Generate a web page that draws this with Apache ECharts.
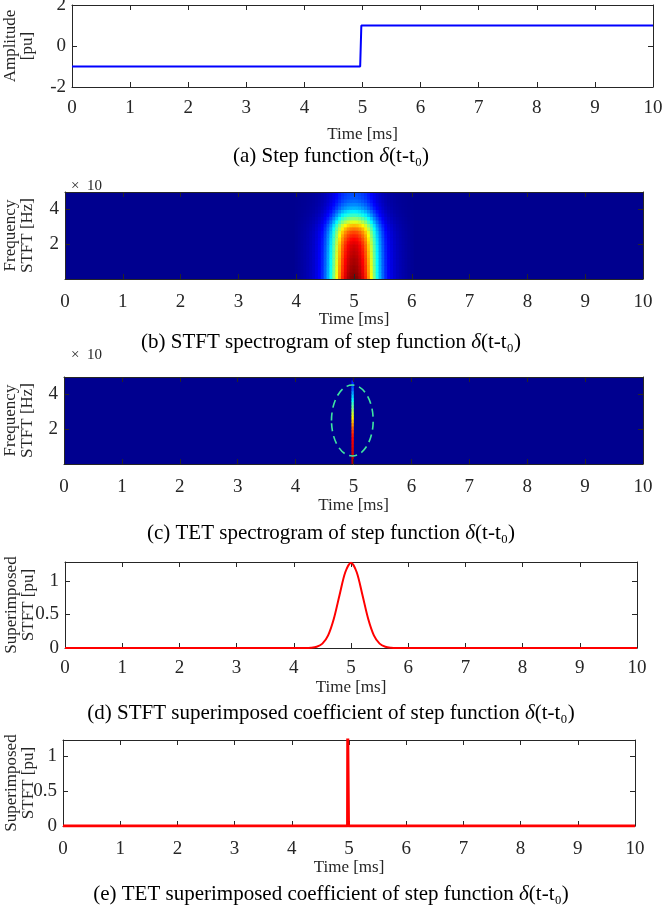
<!DOCTYPE html>
<html>
<head>
<meta charset="utf-8">
<script src="https://cdn.jsdelivr.net/npm/echarts@6/dist/echarts.min.js"></script>
<style>
  html, body { margin: 0; padding: 0; background: #fff; }
  #chart { width: 667px; height: 906px; }
</style>
</head>
<body>
<div id="chart"></div>
<script>
// ---------- data ----------
// (a) step function
const stepTime = [0, 4.96, 4.98, 10]
const stepAmp = [-1, -1, 1, 1]

// (b) STFT spectrogram: time profile (4.0 .. 6.0 ms, 0.05 step) and frequency profile (x10^4 Hz)
const stftTimes = [4.0, 4.05, 4.1, 4.15, 4.2, 4.25, 4.3, 4.35, 4.4, 4.45, 4.5, 4.55, 4.6, 4.65, 4.7, 4.75, 4.8, 4.85, 4.9, 4.95,
  5.0, 5.05, 5.1, 5.15, 5.2, 5.25, 5.3, 5.35, 5.4, 5.45, 5.5, 5.55, 5.6, 5.65, 5.7, 5.75, 5.8, 5.85, 5.9, 5.95, 6.0]
const stftTimeLevel = [0.007, 0.014, 0.022, 0.031, 0.042, 0.055, 0.072, 0.095, 0.125, 0.165, 0.225, 0.3, 0.39, 0.5, 0.62, 0.74, 0.84, 0.91, 0.96, 0.99,
  1.0, 0.99, 0.96, 0.91, 0.84, 0.74, 0.62, 0.5, 0.39, 0.3, 0.225, 0.165, 0.125, 0.095, 0.072, 0.055, 0.042, 0.031, 0.022, 0.014, 0.007]
const freqBins = [0.1, 0.3, 0.5, 0.7, 0.9, 1.1, 1.3, 1.5, 1.7, 1.9, 2.1, 2.3, 2.5, 2.7, 2.9, 3.1, 3.3, 3.5, 3.7, 3.9, 4.1, 4.3, 4.5, 4.7, 4.9]
const stftFreqLevel = [1.0, 0.99, 0.98, 0.975, 0.965, 0.96, 0.95, 0.94, 0.93, 0.92, 0.9, 0.875, 0.845, 0.81, 0.76, 0.69, 0.6, 0.51, 0.43, 0.36, 0.3, 0.26, 0.23, 0.21, 0.2]

// (c) TET spectrogram: one ridge at t0
const tetTime = 4.98
const tetLevel = [0.95, 0.94, 0.93, 0.92, 0.91, 0.9, 0.89, 0.87, 0.85, 0.82, 0.78, 0.73, 0.68, 0.63, 0.58, 0.53, 0.48, 0.43, 0.38, 0.33, 0.28, 0.23, 0.19, 0.15, 0]
// dashed ellipse: [centre t, centre f, radius t, radius f]
const ellipseMark = [4.98, 2.5, 0.36, 2.04]

// (d) STFT superimposed coefficient
const stftSumTime = [0, 4.2, 4.3, 4.4, 4.5, 4.6, 4.7, 4.8, 4.9, 5.0, 5.1, 5.2, 5.3, 5.4, 5.5, 5.6, 5.7, 5.8, 10]
const stftSumVal = [0, 0.001, 0.004, 0.018, 0.065, 0.189, 0.436, 0.789, 1.128, 1.27, 1.128, 0.789, 0.436, 0.189, 0.065, 0.018, 0.004, 0.001, 0]

// (e) TET superimposed coefficient
const tetSumTime = [0, 4.975, 4.978, 4.988, 4.991, 10]
const tetSumVal = [0, 0, 1.3, 1.3, 0, 0]

// jet colormap
const jetColors = ['#00008F', '#0000FF', '#0080FF', '#00FFFF', '#80FF80', '#FFFF00', '#FF8000', '#FF0000', '#800000']

/* ---------------- build ---------------- */
const FONT = 'Liberation Serif'
const INK = '#262626'

const pairs = (xs, ys) => xs.map((x, i) => [x, ys[i]])

// spectrogram cells
const stftCells = []
stftTimes.forEach((t, i) => {
  freqBins.forEach((f, j) => {
    stftCells.push([t, f, stftTimeLevel[i] * stftFreqLevel[j]])
  })
})
const tetCells = freqBins.map((f, j) => [tetTime, f, tetLevel[j]]).filter(d => d[2] > 0)

const cellRenderer = (dt, df) => (params, api) => {
  const p = api.coord([api.value(0) - dt / 2, api.value(1) + df / 2])
  const s = api.size([dt, df])
  return {
    type: 'rect',
    shape: { x: p[0], y: p[1], width: s[0] + 0.6, height: s[1] + 0.6 },
    style: { fill: api.visual('color') }
  }
}

// grid layouts
const grids = [
  { left: 72, right: 14, top: 5, height: 82 },
  { left: 65, right: 24, top: 192, height: 87 },
  { left: 64, right: 24, top: 377, height: 87 },
  { left: 65, right: 30, top: 562, height: 86 },
  { left: 63, right: 32, top: 740, height: 86 }
]
grids.forEach(g => { g.containLabel = false; g.outerBoundsMode = 'none' })
const labelMargins = [12, 14, 14, 11, 14]
const nameGaps = [39, 32, 33, 31, 33]
const yConf = [
  { min: -2, max: 2, interval: 2, name: 'Amplitude\n[pu]', gap: 36 },
  { min: 0, max: 5, interval: 2, name: 'Frequency\nSTFT [Hz]', gap: 29 },
  { min: 0, max: 5, interval: 2, name: 'Frequency\nSTFT [Hz]', gap: 28 },
  { min: 0, max: 1.28, interval: 0.5, name: 'Superimposed\nSTFT [pu]', gap: 28 },
  { min: 0, max: 1.23, interval: 0.5, name: 'Superimposed\nSTFT [pu]', gap: 26 }
]

const axisLine = { show: true, onZero: false, lineStyle: { color: INK, width: 1 } }
const tick = { show: true, inside: true, length: 5, lineStyle: { color: INK } }

const xAxes = []
const yAxes = []
grids.forEach((g, i) => {
  xAxes.push({
    gridIndex: i, type: 'value', min: 0, max: 10, interval: 1, position: 'bottom', z: 5,
    axisLine, axisTick: tick, splitLine: { show: false },
    axisLabel: { fontFamily: FONT, fontSize: 19, color: INK, margin: labelMargins[i] },
    name: 'Time [ms]', nameLocation: 'middle', nameGap: nameGaps[i], nameMoveOverlap: false,
    nameTextStyle: { fontFamily: FONT, fontSize: 17, color: INK }
  })
  xAxes.push({
    gridIndex: i, type: 'value', min: 0, max: 10, interval: 1, position: 'top', z: 5,
    axisLine, axisTick: tick, axisLabel: { show: false }, splitLine: { show: false }
  })
  const c = yConf[i]
  yAxes.push({
    gridIndex: i, type: 'value', min: c.min, max: c.max, interval: c.interval, position: 'left', z: 5,
    axisLine, axisTick: tick, splitLine: { show: false },
    axisLabel: { fontFamily: FONT, fontSize: 19, color: INK, margin: 6, showMaxLabel: i === 0, showMinLabel: i === 0 || i >= 3 },
    name: c.name, nameLocation: 'middle', nameGap: c.gap, nameRotate: 90, nameMoveOverlap: false,
    nameTextStyle: { fontFamily: FONT, fontSize: 17, color: INK, lineHeight: 17 }
  })
  yAxes.push({
    gridIndex: i, type: 'value', min: c.min, max: c.max, interval: c.interval, position: 'right', z: 5,
    axisLine, axisTick: tick, axisLabel: { show: false }, splitLine: { show: false }
  })
})
grids[1].show = true
grids[1].backgroundColor = '#00008F'
grids[1].borderWidth = 0
grids[2].show = true
grids[2].backgroundColor = '#00008F'
grids[2].borderWidth = 0

const caption = (text, top) => ({
  text, left: 326, top, textAlign: 'center',
  textStyle: {
    fontFamily: FONT, fontSize: 21, fontWeight: 'normal', color: '#000',
    rich: { d: { fontFamily: FONT, fontSize: 21, fontStyle: 'italic', color: '#000' } }
  }
})
const scaleNote = (top) => ({
  text: '×  10', left: 66, top,
  textStyle: { fontFamily: FONT, fontSize: 15, fontWeight: 'normal', color: INK }
})

const option = {
  animation: false,
  backgroundColor: '#fff',
  title: [
    caption('(a) Step function {d|δ}(t-t₀)', 141),
    caption('(b) STFT spectrogram of step function {d|δ}(t-t₀)', 327),
    caption('(c) TET spectrogram of step function {d|δ}(t-t₀)', 518),
    caption('(d) STFT superimposed coefficient of step function {d|δ}(t-t₀)', 698),
    caption('(e) TET superimposed coefficient of step function {d|δ}(t-t₀)', 879),
    scaleNote(174),
    scaleNote(343)
  ],
  grid: grids,
  xAxis: xAxes,
  yAxis: yAxes,
  visualMap: {
    type: 'continuous', show: false, min: 0, max: 1, dimension: 2,
    seriesIndex: [1, 2],
    inRange: { color: jetColors }
  },
  series: [
    {
      type: 'line', xAxisIndex: 0, yAxisIndex: 0, data: pairs(stepTime, stepAmp),
      symbol: 'none', lineStyle: { color: '#0000FF', width: 2 }, z: 6
    },
    {
      type: 'custom', xAxisIndex: 2, yAxisIndex: 2, data: stftCells,
      renderItem: cellRenderer(0.05, 0.2), z: 2
    },
    {
      type: 'custom', xAxisIndex: 4, yAxisIndex: 4, data: tetCells,
      renderItem: cellRenderer(0.03, 0.2), z: 2
    },
    {
      type: 'custom', xAxisIndex: 4, yAxisIndex: 4, data: [ellipseMark],
      renderItem: (params, api) => {
        const c = api.coord([api.value(0), api.value(1)])
        const s = api.size([api.value(2), api.value(3)])
        return {
          type: 'ellipse',
          shape: { cx: c[0], cy: c[1], rx: s[0], ry: s[1] },
          style: { fill: 'none', stroke: '#3FE6A0', lineWidth: 1.6, lineDash: [8, 5] }
        }
      },
      z: 3
    },
    {
      type: 'line', xAxisIndex: 6, yAxisIndex: 6, data: pairs(stftSumTime, stftSumVal),
      symbol: 'none', smooth: 0.3, lineStyle: { color: '#FF0000', width: 2 }, z: 6
    },
    {
      type: 'line', xAxisIndex: 8, yAxisIndex: 8, data: pairs(tetSumTime, tetSumVal),
      symbol: 'none', lineStyle: { color: '#FF0000', width: 3 }, z: 6
    }
  ]
}

const chart = echarts.init(document.getElementById('chart'), null, { renderer: 'canvas' })
chart.setOption(option)
</script>
</body>
</html>
